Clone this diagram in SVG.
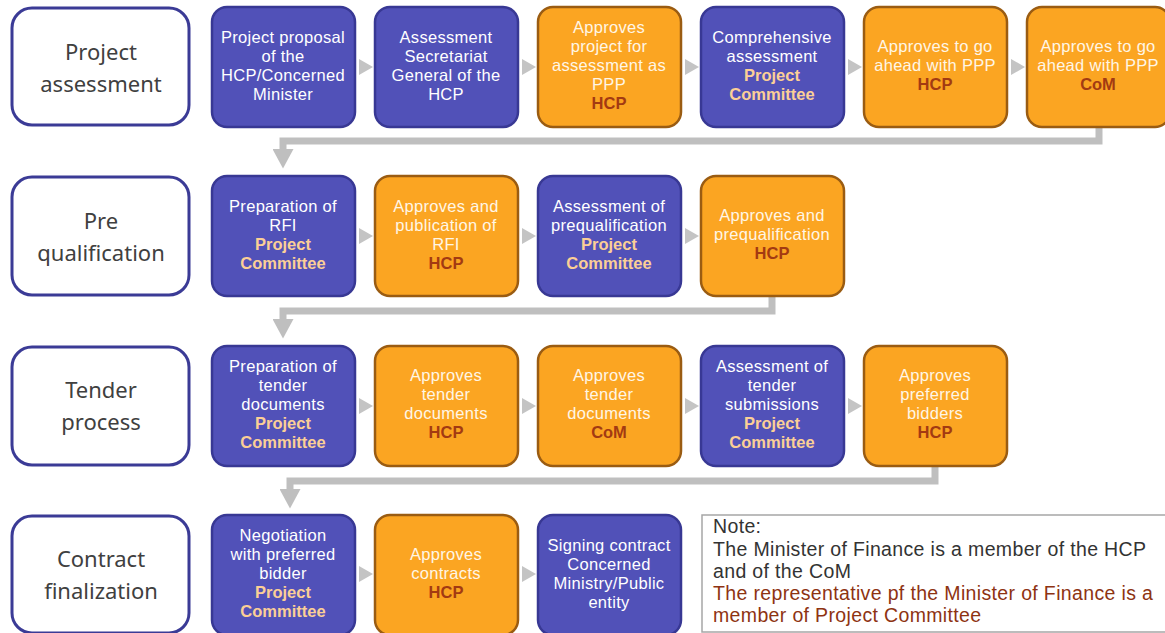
<svg xmlns="http://www.w3.org/2000/svg" width="1165" height="633" viewBox="0 0 1165 633">
  <style>
    .stage { fill: #ffffff; stroke: #3b3b96; stroke-width: 3; }
    .stage-t { font-family: "Noto Sans", "Open Sans", sans-serif; font-size: 22px; fill: #404040; text-anchor: middle; }
    .blue { fill: #5151b8; stroke: #383894; stroke-width: 2.5; }
    .orange { fill: #fba522; stroke: #9a5c12; stroke-width: 2.5; }
    .t { font-family: "Liberation Sans", Arial, sans-serif; font-size: 16.5px; letter-spacing: 0.3px; text-anchor: middle; }
    .w { fill: #ffffff; }
    .lw { fill: #fff6e6; }
    .pc { fill: #fbcf96; font-weight: bold; letter-spacing: 0; }
    .hcp { fill: #a33a12; font-weight: bold; letter-spacing: 0; }
    .flow { fill: none; stroke: #bfbfbf; stroke-width: 7; }
    .chev { fill: #c4c4c4; }
    .note-box { fill: #ffffff; stroke: #a6a6a6; stroke-width: 1.5; }
    .note { font-family: "Liberation Sans", Arial, sans-serif; font-size: 19.5px; letter-spacing: 0.35px; fill: #333333; }
    .note-red { fill: #8e3312; }
  </style>
  <defs>
    <marker id="down" markerWidth="4" markerHeight="3" refX="1" refY="1.5" orient="auto" markerUnits="strokeWidth">
      <path d="M0,0 L2.8,1.5 L0,3 Z" fill="#bfbfbf"/>
    </marker>
  </defs>

  <!-- connectors -->
  <g id="connectors">
    <path class="flow" d="M1099,127 V141 H283 V156" marker-end="url(#down)"/>
    <path class="flow" d="M772,296 V311 H283 V326" marker-end="url(#down)"/>
    <path class="flow" d="M935,466 V481 H290 V496" marker-end="url(#down)"/>
    <!-- chevrons between steps, row 1 -->
    <path class="chev" d="M359,59 L373,67 L359,75 Z"/>
    <path class="chev" d="M522,59 L536,67 L522,75 Z"/>
    <path class="chev" d="M685,59 L699,67 L685,75 Z"/>
    <path class="chev" d="M848,59 L862,67 L848,75 Z"/>
    <path class="chev" d="M1011,59 L1025,67 L1011,75 Z"/>
    <!-- row 2 -->
    <path class="chev" d="M359,228 L373,236 L359,244 Z"/>
    <path class="chev" d="M522,228 L536,236 L522,244 Z"/>
    <path class="chev" d="M685,228 L699,236 L685,244 Z"/>
    <!-- row 3 -->
    <path class="chev" d="M359,398 L373,406 L359,414 Z"/>
    <path class="chev" d="M522,398 L536,406 L522,414 Z"/>
    <path class="chev" d="M685,398 L699,406 L685,414 Z"/>
    <path class="chev" d="M848,398 L862,406 L848,414 Z"/>
    <!-- row 4 -->
    <path class="chev" d="M359,566 L373,574 L359,582 Z"/>
    <path class="chev" d="M522,566 L536,574 L522,582 Z"/>
  </g>

  <!-- stage labels -->
  <g id="stage-project-assessment">
    <rect class="stage" x="12" y="8" width="177" height="117" rx="20"/>
    <text class="stage-t" x="101" y="60">Project</text>
    <text class="stage-t" x="101" y="92">assessment</text>
  </g>
  <g id="stage-prequalification">
    <rect class="stage" x="12" y="177" width="177" height="118" rx="20"/>
    <text class="stage-t" x="101" y="229">Pre</text>
    <text class="stage-t" x="101" y="261">qualification</text>
  </g>
  <g id="stage-tender">
    <rect class="stage" x="12" y="347" width="177" height="118" rx="20"/>
    <text class="stage-t" x="101" y="398">Tender</text>
    <text class="stage-t" x="101" y="430">process</text>
  </g>
  <g id="stage-contract">
    <rect class="stage" x="12" y="516" width="177" height="117" rx="20"/>
    <text class="stage-t" x="101" y="567">Contract</text>
    <text class="stage-t" x="101" y="599">finalization</text>
  </g>

  <!-- row 1 -->
  <g id="n-proposal">
    <rect class="blue" x="212" y="7" width="143" height="120" rx="15"/>
    <text class="t w" x="283" y="43">Project proposal</text>
    <text class="t w" x="283" y="62">of the</text>
    <text class="t w" x="283" y="81">HCP/Concerned</text>
    <text class="t w" x="283" y="100">Minister</text>
  </g>
  <g id="n-secretariat">
    <rect class="blue" x="375" y="7" width="143" height="120" rx="15"/>
    <text class="t w" x="446" y="43">Assessment</text>
    <text class="t w" x="446" y="62">Secretariat</text>
    <text class="t w" x="446" y="81">General of the</text>
    <text class="t w" x="446" y="100">HCP</text>
  </g>
  <g id="n-approve-assessment">
    <rect class="orange" x="538" y="7" width="143" height="120" rx="15"/>
    <text class="t lw" x="609" y="33">Approves</text>
    <text class="t lw" x="609" y="52">project for</text>
    <text class="t lw" x="609" y="71">assessment as</text>
    <text class="t lw" x="609" y="90">PPP</text>
    <text class="t hcp" x="609" y="109">HCP</text>
  </g>
  <g id="n-comprehensive">
    <rect class="blue" x="701" y="7" width="143" height="120" rx="15"/>
    <text class="t w" x="772" y="43">Comprehensive</text>
    <text class="t w" x="772" y="62">assessment</text>
    <text class="t pc" x="772" y="81">Project</text>
    <text class="t pc" x="772" y="100">Committee</text>
  </g>
  <g id="n-go-hcp">
    <rect class="orange" x="864" y="7" width="143" height="120" rx="15"/>
    <text class="t lw" x="935" y="52">Approves to go</text>
    <text class="t lw" x="935" y="71">ahead with PPP</text>
    <text class="t hcp" x="935" y="90">HCP</text>
  </g>
  <g id="n-go-com">
    <rect class="orange" x="1027" y="7" width="143" height="120" rx="15"/>
    <text class="t lw" x="1098" y="52">Approves to go</text>
    <text class="t lw" x="1098" y="71">ahead with PPP</text>
    <text class="t hcp" x="1098" y="90">CoM</text>
  </g>

  <!-- row 2 -->
  <g id="n-rfi">
    <rect class="blue" x="212" y="176" width="143" height="120" rx="15"/>
    <text class="t w" x="283" y="212">Preparation of</text>
    <text class="t w" x="283" y="231">RFI</text>
    <text class="t pc" x="283" y="250">Project</text>
    <text class="t pc" x="283" y="269">Committee</text>
  </g>
  <g id="n-rfi-publish">
    <rect class="orange" x="375" y="176" width="143" height="120" rx="15"/>
    <text class="t lw" x="446" y="212">Approves and</text>
    <text class="t lw" x="446" y="231">publication of</text>
    <text class="t lw" x="446" y="250">RFI</text>
    <text class="t hcp" x="446" y="269">HCP</text>
  </g>
  <g id="n-prequal-assess">
    <rect class="blue" x="538" y="176" width="143" height="120" rx="15"/>
    <text class="t w" x="609" y="212">Assessment of</text>
    <text class="t w" x="609" y="231">prequalification</text>
    <text class="t pc" x="609" y="250">Project</text>
    <text class="t pc" x="609" y="269">Committee</text>
  </g>
  <g id="n-prequal-approve">
    <rect class="orange" x="701" y="176" width="143" height="120" rx="15"/>
    <text class="t lw" x="772" y="221">Approves and</text>
    <text class="t lw" x="772" y="240">prequalification</text>
    <text class="t hcp" x="772" y="259">HCP</text>
  </g>

  <!-- row 3 -->
  <g id="n-tender-prep">
    <rect class="blue" x="212" y="346" width="143" height="120" rx="15"/>
    <text class="t w" x="283" y="372">Preparation of</text>
    <text class="t w" x="283" y="391">tender</text>
    <text class="t w" x="283" y="410">documents</text>
    <text class="t pc" x="283" y="429">Project</text>
    <text class="t pc" x="283" y="448">Committee</text>
  </g>
  <g id="n-tender-hcp">
    <rect class="orange" x="375" y="346" width="143" height="120" rx="15"/>
    <text class="t lw" x="446" y="381">Approves</text>
    <text class="t lw" x="446" y="400">tender</text>
    <text class="t lw" x="446" y="419">documents</text>
    <text class="t hcp" x="446" y="438">HCP</text>
  </g>
  <g id="n-tender-com">
    <rect class="orange" x="538" y="346" width="143" height="120" rx="15"/>
    <text class="t lw" x="609" y="381">Approves</text>
    <text class="t lw" x="609" y="400">tender</text>
    <text class="t lw" x="609" y="419">documents</text>
    <text class="t hcp" x="609" y="438">CoM</text>
  </g>
  <g id="n-submissions">
    <rect class="blue" x="701" y="346" width="143" height="120" rx="15"/>
    <text class="t w" x="772" y="372">Assessment of</text>
    <text class="t w" x="772" y="391">tender</text>
    <text class="t w" x="772" y="410">submissions</text>
    <text class="t pc" x="772" y="429">Project</text>
    <text class="t pc" x="772" y="448">Committee</text>
  </g>
  <g id="n-bidders">
    <rect class="orange" x="864" y="346" width="143" height="120" rx="15"/>
    <text class="t lw" x="935" y="381">Approves</text>
    <text class="t lw" x="935" y="400">preferred</text>
    <text class="t lw" x="935" y="419">bidders</text>
    <text class="t hcp" x="935" y="438">HCP</text>
  </g>

  <!-- row 4 -->
  <g id="n-negotiation">
    <rect class="blue" x="212" y="515" width="143" height="120" rx="15"/>
    <text class="t w" x="283" y="541">Negotiation</text>
    <text class="t w" x="283" y="560">with preferred</text>
    <text class="t w" x="283" y="579">bidder</text>
    <text class="t pc" x="283" y="598">Project</text>
    <text class="t pc" x="283" y="617">Committee</text>
  </g>
  <g id="n-contracts">
    <rect class="orange" x="375" y="515" width="143" height="120" rx="15"/>
    <text class="t lw" x="446" y="560">Approves</text>
    <text class="t lw" x="446" y="579">contracts</text>
    <text class="t hcp" x="446" y="598">HCP</text>
  </g>
  <g id="n-signing">
    <rect class="blue" x="538" y="515" width="143" height="120" rx="15"/>
    <text class="t w" x="609" y="551">Signing contract</text>
    <text class="t w" x="609" y="570">Concerned</text>
    <text class="t w" x="609" y="589">Ministry/Public</text>
    <text class="t w" x="609" y="608">entity</text>
  </g>

  <!-- note -->
  <g id="note">
    <rect class="note-box" x="702" y="515" width="470" height="117"/>
    <text class="note" x="713" y="533">Note:</text>
    <text class="note" x="713" y="556">The Minister of Finance is a member of the HCP</text>
    <text class="note" x="713" y="578">and of the CoM</text>
    <text class="note note-red" x="713" y="600">The representative pf the Minister of Finance is a</text>
    <text class="note note-red" x="713" y="622">member of Project Committee</text>
  </g>
</svg>
